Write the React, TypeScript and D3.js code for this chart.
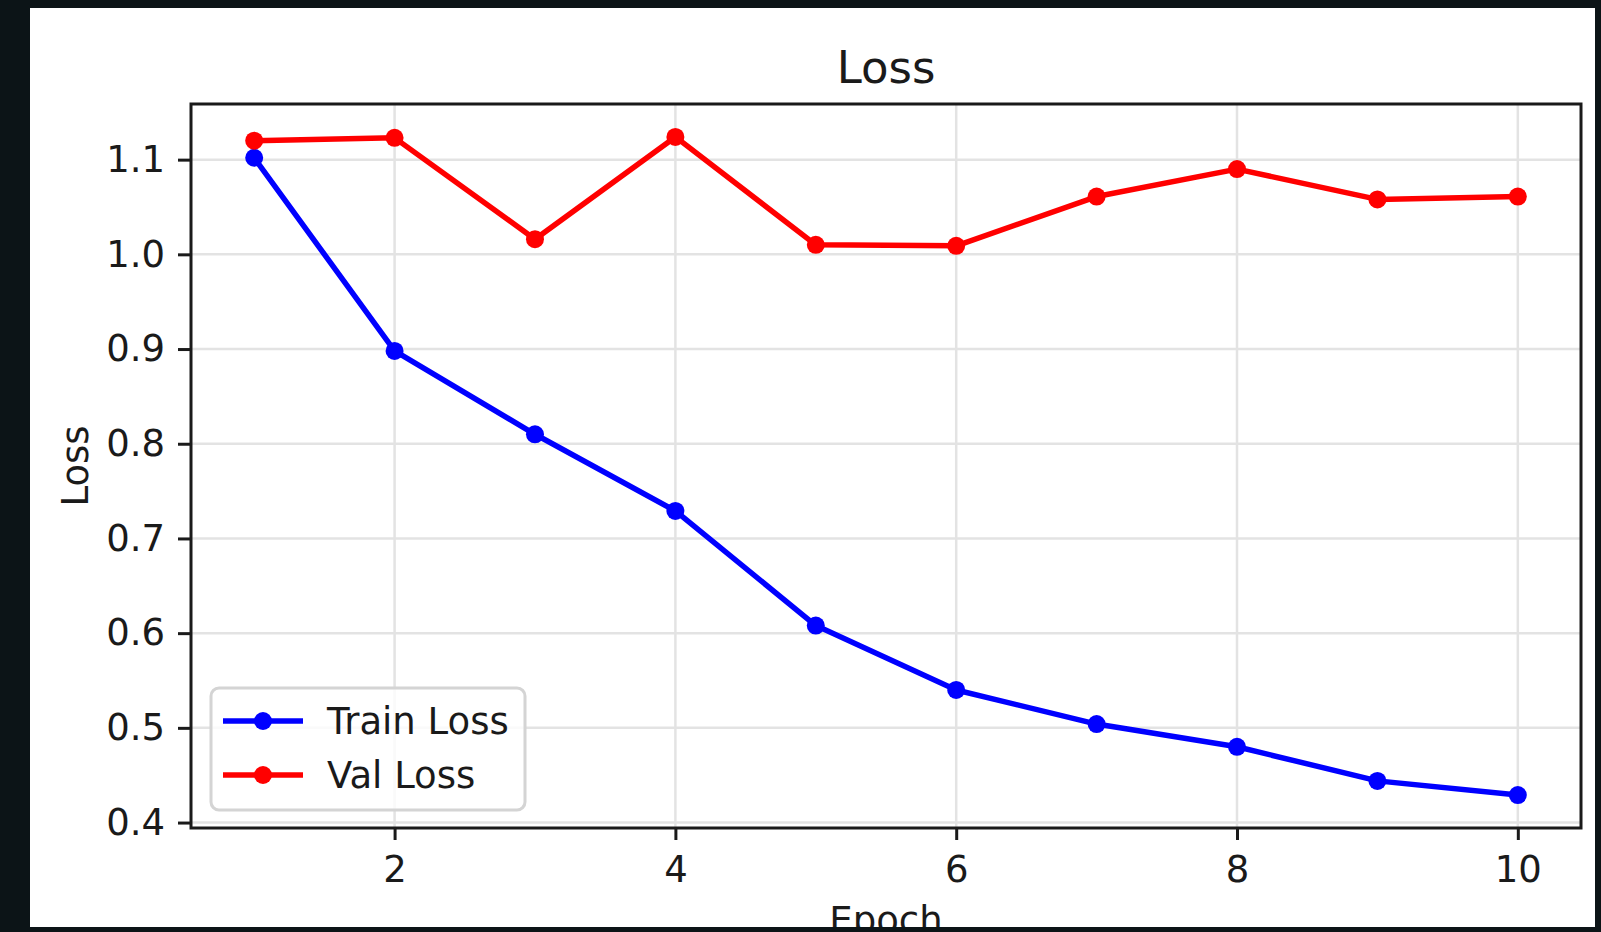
import React, { useEffect, useRef } from 'react'
import * as d3 from 'd3'

const epochs = [1, 2, 3, 4, 5, 6, 7, 8, 9, 10]
const trainLoss = [1.102, 0.898, 0.81, 0.729, 0.608, 0.54, 0.504, 0.48, 0.444, 0.429]
const valLoss = [1.12, 1.123, 1.016, 1.124, 1.01, 1.009, 1.061, 1.09, 1.058, 1.061]
const xTicks = [2, 4, 6, 8, 10]
const yTicks = [0.4, 0.5, 0.6, 0.7, 0.8, 0.9, 1.0, 1.1]

const W = 1601
const H = 932
const FONT = '"DejaVu Sans", sans-serif'

const pad = (ext: [number, number]): [number, number] => {
  const m = (ext[1] - ext[0]) * 0.05
  return [ext[0] - m, ext[1] + m]
}

export default function App() {
  const ref = useRef<SVGSVGElement | null>(null)

  useEffect(() => {
    const svg = d3.select(ref.current)
    svg.selectAll('*').remove()

    const margin = { left: 191, right: W - 1581, top: 104, bottom: H - 828 }

    svg.append('rect').attr('width', W).attr('height', H).attr('fill', '#0c1417')

    svg.append('clipPath').attr('id', 'panel')
      .append('rect').attr('x', 30).attr('y', 8).attr('width', 1565).attr('height', 919)

    const root = svg.append('g').attr('clip-path', 'url(#panel)')
    root.append('rect').attr('x', 30).attr('y', 8).attr('width', 1565).attr('height', 919).attr('fill', '#fff')

    const x = d3.scaleLinear()
      .domain(pad(d3.extent(epochs) as [number, number]))
      .range([margin.left, W - margin.right])

    const y = d3.scaleLinear()
      .domain(pad(d3.extent([...trainLoss, ...valLoss]) as [number, number]))
      .range([H - margin.bottom, margin.top])

    // grid
    root.append('g')
      .selectAll('line.gx')
      .data(xTicks)
      .enter().append('line')
      .attr('x1', d => x(d)).attr('x2', d => x(d))
      .attr('y1', margin.top).attr('y2', H - margin.bottom)
      .attr('stroke', '#e3e3e3').attr('stroke-width', 2.5)

    root.append('g')
      .selectAll('line.gy')
      .data(yTicks)
      .enter().append('line')
      .attr('y1', d => y(d)).attr('y2', d => y(d))
      .attr('x1', margin.left).attr('x2', W - margin.right)
      .attr('stroke', '#e3e3e3').attr('stroke-width', 2.5)

    // lines
    const series = [
      { name: 'Train Loss', values: trainLoss, color: '#0000ff' },
      { name: 'Val Loss', values: valLoss, color: '#ff0000' },
    ]

    const line = d3.line<number>()
      .x((_, i) => x(epochs[i]))
      .y(d => y(d))

    series.forEach(s => {
      root.append('path')
        .datum(s.values)
        .attr('fill', 'none')
        .attr('stroke', s.color)
        .attr('stroke-width', 5.5)
        .attr('stroke-linejoin', 'round')
        .attr('d', line)

      root.append('g')
        .selectAll('circle')
        .data(s.values)
        .enter().append('circle')
        .attr('cx', (_, i) => x(epochs[i]))
        .attr('cy', d => y(d))
        .attr('r', 9)
        .attr('fill', s.color)
    })

    // frame
    root.append('rect')
      .attr('x', margin.left).attr('y', margin.top)
      .attr('width', W - margin.left - margin.right)
      .attr('height', H - margin.top - margin.bottom)
      .attr('fill', 'none').attr('stroke', '#1a1a1a').attr('stroke-width', 3)

    // axes
    const xAxis = root.append('g')
      .attr('transform', `translate(0, ${H - margin.bottom})`)
      .call(d3.axisBottom(x).tickValues(xTicks).tickSize(12).tickPadding(16).tickFormat(d3.format('d')))
    const yAxis = root.append('g')
      .attr('transform', `translate(${margin.left}, 0)`)
      .call(d3.axisLeft(y).tickValues(yTicks).tickSize(13).tickPadding(13).tickFormat(d3.format('.1f')))

    ;[xAxis, yAxis].forEach(a => {
      a.select('.domain').remove()
      a.selectAll('line').attr('stroke', '#1a1a1a').attr('stroke-width', 3)
      a.selectAll('text').attr('font-family', FONT).attr('font-size', 37).attr('fill', '#1a1a1a')
    })

    // title and labels
    root.append('text')
      .attr('x', (margin.left + W - margin.right) / 2).attr('y', 83)
      .attr('text-anchor', 'middle')
      .attr('font-family', FONT).attr('font-size', 45).attr('fill', '#1a1a1a')
      .text('Loss')

    // the reference cuts this label at the panel's lower edge
    root.append('text')
      .attr('x', (margin.left + W - margin.right) / 2).attr('y', 933)
      .attr('text-anchor', 'middle')
      .attr('font-family', FONT).attr('font-size', 37).attr('fill', '#1a1a1a')
      .text('Epoch')

    root.append('text')
      .attr('transform', `translate(88, ${(margin.top + H - margin.bottom) / 2}) rotate(-90)`)
      .attr('text-anchor', 'middle')
      .attr('font-family', FONT).attr('font-size', 37).attr('fill', '#1a1a1a')
      .text('Loss')

    // legend
    const lg = root.append('g').attr('transform', 'translate(211, 688)')
    lg.append('rect')
      .attr('width', 314).attr('height', 122).attr('rx', 8)
      .attr('fill', 'rgba(255,255,255,0.8)').attr('stroke', '#d4d4d4').attr('stroke-width', 3)

    series.forEach((s, i) => {
      const row = lg.append('g').attr('transform', `translate(0, ${33 + i * 54})`)
      row.append('line')
        .attr('x1', 12).attr('x2', 92)
        .attr('stroke', s.color).attr('stroke-width', 5.5)
      row.append('circle').attr('cx', 52).attr('r', 9).attr('fill', s.color)
      row.append('text')
        .attr('x', 116).attr('dy', '0.35em')
        .attr('font-family', FONT).attr('font-size', 37).attr('fill', '#1a1a1a')
        .text(s.name)
    })
  }, [])

  return (
    <svg ref={ref} width={W} height={H}
      style={{ position: 'absolute', left: 0, top: 0, display: 'block' }} />
  )
}
